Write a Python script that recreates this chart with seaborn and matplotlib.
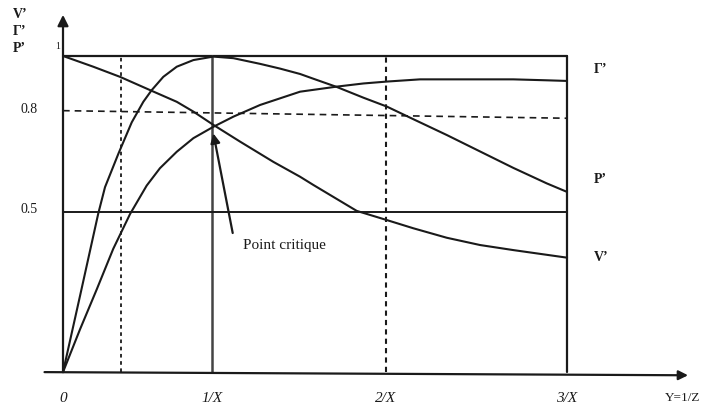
import matplotlib
matplotlib.use("Agg")
import matplotlib.pyplot as plt
import seaborn as sns


# ============================================================
# Data (y: 0..1, x: 0..3/X)
# ============================================================

v_x = [0.0, 0.180, 0.339, 0.518, 0.677, 0.776, 0.895, 1.054, 1.252, 1.411,
       1.490, 1.748, 1.927, 2.085, 2.284, 2.482, 2.680, 3.0]
v_y = [1.0, 0.966, 0.934, 0.892, 0.855, 0.824, 0.782, 0.729, 0.665, 0.618,
       0.592, 0.510, 0.481, 0.455, 0.425, 0.402, 0.386, 0.362]

p_x = [0.0, 0.105, 0.210, 0.250, 0.329, 0.409, 0.478, 0.528, 0.597, 0.677,
       0.776, 0.895, 1.014, 1.173, 1.292, 1.411, 1.490, 1.629, 1.788, 1.927,
       2.085, 2.284, 2.482, 2.680, 2.879, 3.0]
p_y = [0.0, 0.250, 0.502, 0.585, 0.690, 0.790, 0.855, 0.892, 0.934, 0.966,
       0.987, 0.998, 0.993, 0.975, 0.960, 0.943, 0.928, 0.902, 0.868, 0.840,
       0.800, 0.750, 0.698, 0.646, 0.597, 0.570]

g_x = [0.0, 0.101, 0.201, 0.299, 0.399, 0.498, 0.577, 0.677, 0.776, 0.895,
       1.014, 1.173, 1.292, 1.411, 1.629, 1.788, 1.927, 2.125, 2.383, 2.680,
       2.879, 3.0]
g_y = [0.0, 0.135, 0.262, 0.390, 0.500, 0.590, 0.645, 0.697, 0.740, 0.776,
       0.808, 0.845, 0.866, 0.887, 0.903, 0.913, 0.919, 0.926, 0.926, 0.926,
       0.923, 0.921]

x_ticks = [0.0, 0.887, 1.923, 3.0]
x_tick_labels = ["0", "1/X", "2/X", "3/X"]

y_ticks = [1.0, 0.83, 0.513]
y_tick_labels = ["1", "0.8", "0.5"]

curve_labels = ["Γ’", "P’", "V’"]
curve_label_y = [0.956, 0.608, 0.361]

critical_x = 0.887
dashed_x = 0.345
dashed_level = 0.815
half_level = 0.506


# ============================================================
# Theme
# ============================================================

sns.set_theme(style="white")
plt.rcParams["font.family"] = ["Liberation Serif", "DejaVu Serif"]

ink = "#1a1a1a"

fig = plt.figure(figsize=(7.05, 4.05), dpi=100)
ax = fig.add_axes([0, 0, 1, 1])
ax.set_xlim(-0.375, 3.821)
ax.set_ylim(-0.104, 1.177)
ax.axis("off")

# ============================================================
# Frame and guide lines
# ============================================================

ax.plot([0, 3], [1, 1], color=ink, lw=1.6)
ax.plot([3, 3], [0, 1], color=ink, lw=1.6)
ax.plot([critical_x, critical_x], [0, 1], color="#444444", lw=1.8)
ax.plot([0, 3], [half_level, half_level], color=ink, lw=1.4)
ax.plot([0, 3], [dashed_level + 0.012, dashed_level - 0.012], color=ink, lw=1.2,
        linestyle=(0, (4, 3)))
ax.plot([dashed_x, dashed_x], [0, 1], color=ink, lw=1.3, linestyle=(0, (2, 2)))
ax.plot([1.923, 1.923], [0, 1], color=ink, lw=1.5, linestyle=(0, (2.5, 2)))

# axes with arrows
ax.annotate("", xy=(0, 1.13), xytext=(0, 0),
            arrowprops=dict(arrowstyle="-|>", color=ink, lw=1.6,
                            mutation_scale=16, shrinkA=0, shrinkB=0))
ax.annotate("", xy=(3.72, -0.01), xytext=(-0.11, 0.0),
            arrowprops=dict(arrowstyle="-|>", color=ink, lw=1.6,
                            mutation_scale=14, shrinkA=0, shrinkB=0))

# ============================================================
# Curves
# ============================================================

for xs, ys in [(v_x, v_y), (p_x, p_y), (g_x, g_y)]:
    sns.lineplot(x=xs, y=ys, ax=ax, color=ink, lw=1.5,
                 sort=False, estimator=None)

# ============================================================
# Text
# ============================================================

for tx, lab in zip(x_ticks, x_tick_labels):
    ax.text(tx, -0.082, lab, ha="center", va="center", fontsize=11,
            style="italic", color=ink)
ax.text(3.69, -0.082, "Y=1/Z", ha="center", va="center", fontsize=9.5,
        color=ink)

for ty, lab in zip(y_ticks, y_tick_labels):
    if lab == "1":
        ax.text(-0.03, ty + 0.03, lab, ha="center", va="center",
                fontsize=7, color=ink)
    else:
        ax.text(-0.2, ty, lab, ha="center", va="center", fontsize=10,
                color=ink)

for i, lab in enumerate(["V’", "Γ’", "P’"]):
    ax.text(-0.3, 1.13 - i * 0.053, lab, ha="left", va="center",
            fontsize=10, fontweight="bold", color=ink)

for lab, ly in zip(curve_labels, curve_label_y):
    ax.text(3.16, ly, lab, ha="left", va="center", fontsize=10,
            fontweight="bold", color=ink)

ax.annotate("", xy=(0.895, 0.755), xytext=(1.01, 0.44),
            arrowprops=dict(arrowstyle="-|>", color=ink, lw=1.6,
                            mutation_scale=14, shrinkA=0, shrinkB=0))
ax.text(1.32, 0.402, "Point critique", ha="center", va="center",
        fontsize=11, color=ink)

fig.savefig("out.png", dpi=100)
plt.close(fig)
